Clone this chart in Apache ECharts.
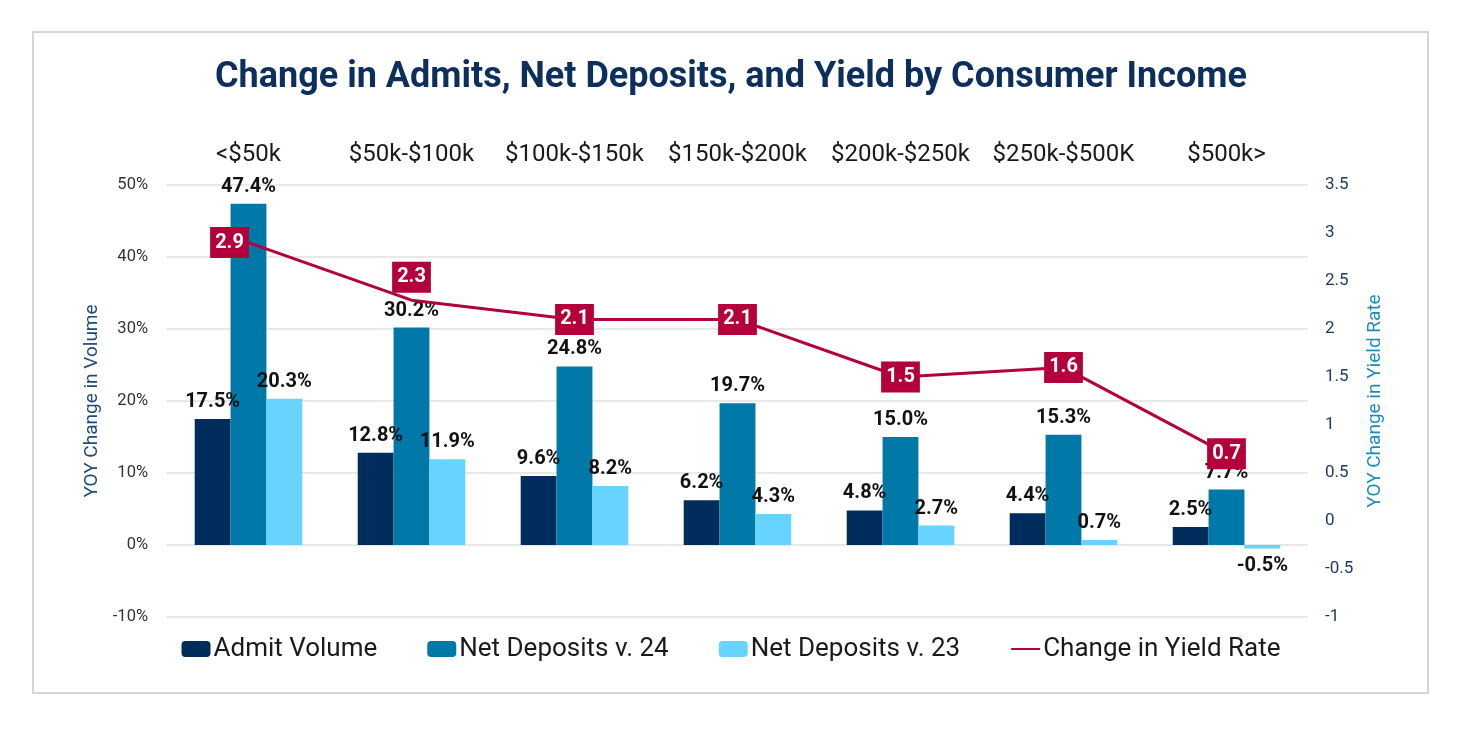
<!DOCTYPE html>
<html>
<head>
<meta charset="utf-8">
<script src="https://cdn.jsdelivr.net/npm/echarts@6/dist/echarts.min.js"></script>
<style>
  html, body { margin: 0; padding: 0; background: #fff; }
  #chart { width: 1462px; height: 735px; }
</style>
</head>
<body>
<div id="chart"></div>
<script>
var categories = ['<$50k', '$50k-$100k', '$100k-$150k', '$150k-$200k', '$200k-$250k', '$250k-$500K', '$500k>']
var admitVolume = [17.5, 12.8, 9.6, 6.2, 4.8, 4.4, 2.5]
var netDeposits24 = [47.4, 30.2, 24.8, 19.7, 15.0, 15.3, 7.7]
var netDeposits23 = [20.3, 11.9, 8.2, 4.3, 2.7, 0.7, -0.5]
var yieldChange = [2.9, 2.3, 2.1, 2.1, 1.5, 1.6, 0.7]

var FONT = 'Roboto'

// bar labels: above for positive, below for negative
function barData(arr) {
  return arr.map(function (v) {
    if (v < 0) return { value: v, label: { position: 'bottom' } }
    return v
  })
}

// a couple of yield labels were nudged by hand in the original
var yieldLabelOffsets = { 0: [-19, 0], 1: [0, -23] }

var barLabel = {
  show: true,
  position: 'top',
  distance: 7,
  fontFamily: FONT,
  fontWeight: 'bold',
  fontSize: 20,
  color: '#111',
  formatter: function (p) { return p.value.toFixed(1) + '%' }
}

var chart = echarts.init(document.getElementById('chart'))
var option = {
  textStyle: { fontFamily: FONT },
  title: {
    text: 'Change in Admits, Net Deposits, and Yield by Consumer Income',
    left: 'center',
    top: 55,
    textStyle: { fontFamily: FONT, fontSize: 36, fontWeight: 'bold', color: '#0c2f5e' }
  },
  graphic: [{
    type: 'rect',
    shape: { x: 33, y: 32, width: 1395, height: 661 },
    style: { fill: 'none', stroke: '#d4d4d4', lineWidth: 2 },
    silent: true
  }],
  legend: {
    bottom: 68,
    left: 'center',
    itemWidth: 29,
    itemHeight: 16,
    itemGap: 50,
    textStyle: { fontFamily: FONT, fontSize: 26, color: '#1a1a1a', padding: [0, 0, 0, -2] },
    data: [
      'Admit Volume',
      'Net Deposits v. 24',
      'Net Deposits v. 23',
      { name: 'Change in Yield Rate', itemStyle: { opacity: 0 } }
    ]
  },
  grid: { left: 167, right: 154, top: 185, bottom: 118, containLabel: false },
  xAxis: {
    type: 'category',
    position: 'top',
    data: categories,
    axisLine: { show: false, onZero: false },
    axisTick: { show: false },
    axisLabel: { fontFamily: FONT, fontSize: 24, color: '#1a1a1a', margin: 18, interval: 0 }
  },
  yAxis: [{
    type: 'value',
    min: -10,
    max: 50,
    interval: 10,
    name: 'YOY Change in Volume',
    nameLocation: 'middle',
    nameGap: 62,
    nameTextStyle: { fontFamily: FONT, fontSize: 19, color: '#1d4a7c' },
    axisLine: { show: false },
    axisTick: { show: false },
    axisLabel: { fontFamily: FONT, fontSize: 16.5, color: '#333', margin: 19, formatter: '{value}%' },
    splitLine: { lineStyle: { color: '#e0e0e0', width: 1.5 } }
  }, {
    type: 'value',
    min: -1,
    max: 3.5,
    interval: 0.5,
    name: 'YOY Change in Yield Rate',
    nameLocation: 'middle',
    nameGap: 58,
    nameTextStyle: { fontFamily: FONT, fontSize: 19, color: '#1a8dbf' },
    axisLine: { show: false },
    axisTick: { show: false },
    axisLabel: { fontFamily: FONT, fontSize: 17, color: '#1d3a66', margin: 17 },
    splitLine: { show: false }
  }],
  series: [{
    name: 'Admit Volume',
    type: 'bar',
    data: barData(admitVolume),
    barGap: '0%',
    barCategoryGap: '34%',
    itemStyle: { color: '#002d5c' },
    label: barLabel
  }, {
    name: 'Net Deposits v. 24',
    type: 'bar',
    data: barData(netDeposits24),
    itemStyle: { color: '#0078a8' },
    label: barLabel
  }, {
    name: 'Net Deposits v. 23',
    type: 'bar',
    data: barData(netDeposits23),
    itemStyle: { color: '#66d4ff' },
    label: barLabel
  }, {
    name: 'Change in Yield Rate',
    type: 'line',
    yAxisIndex: 1,
    data: yieldChange.map(function (v, i) {
      if (yieldLabelOffsets[i]) return { value: v, label: { offset: yieldLabelOffsets[i] } }
      return v
    }),
    symbol: 'circle',
    symbolSize: 1,
    lineStyle: { color: '#b3003a', width: 3 },
    itemStyle: { color: '#b3003a' },
    label: {
      show: true,
      position: 'inside',
      fontFamily: FONT,
      fontWeight: 'bold',
      fontSize: 20,
      color: '#fff',
      backgroundColor: '#b3003a',
      padding: [6, 5, 5, 5],
      formatter: function (p) { return p.value.toFixed(1) }
    },
    z: 5
  }]
}
chart.setOption(option)
</script>
</body>
</html>
